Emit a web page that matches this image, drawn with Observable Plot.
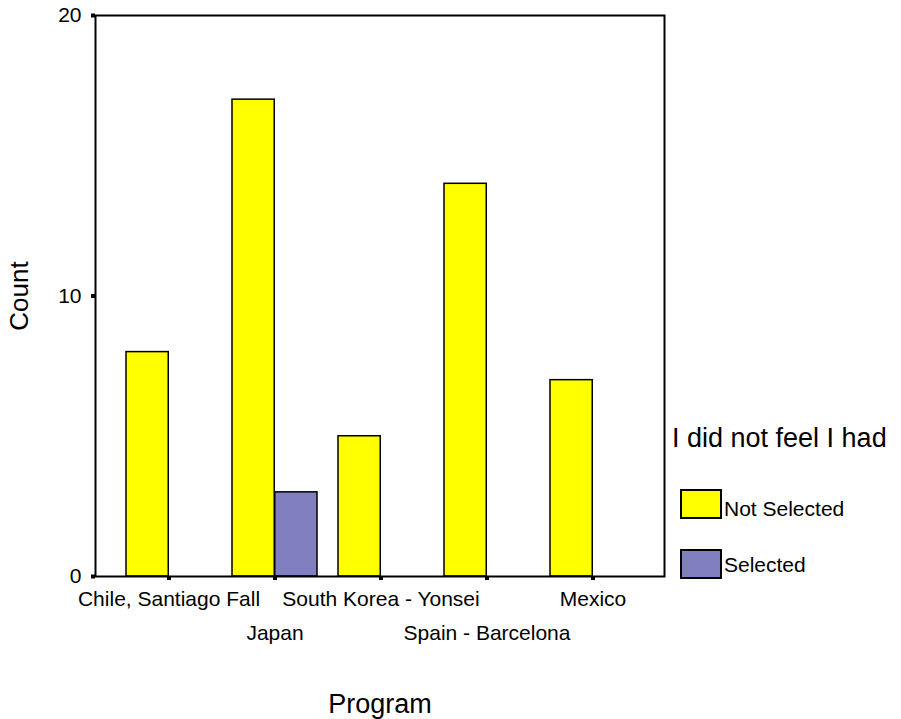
<!DOCTYPE html>
<html><head><meta charset="utf-8">
<script src="https://cdn.jsdelivr.net/npm/d3@7"></script>
<script src="https://cdn.jsdelivr.net/npm/@observablehq/plot@0.6"></script>
<style>
body{margin:0;background:#fff;font-family:"Liberation Sans",Arial,sans-serif;}
#wrap{position:relative;width:901px;height:719px;overflow:hidden;}
.lg{position:absolute;color:#000;white-space:nowrap;}
.sw{position:absolute;box-sizing:border-box;border:2px solid #000;}
</style></head><body><div id="wrap"></div>
<script>
const programs = ["Chile, Santiago Fall", "Japan", "South Korea - Yonsei", "Spain - Barcelona", "Mexico"];
const notSelected = [8, 17, 5, 14, 7];
const selected = [0, 3, 0, 0, 0];
const seriesNames = ["Not Selected", "Selected"];
const seriesColors = ["#ffff00", "#8080c0"];
const yTicks = [0, 10, 20];
const legendTitle = "I did not feel I had";
const xTitle = "Program";
const yTitle = "Count";

const row1 = programs.filter((d, i) => i % 2 === 0);
const row2 = programs.filter((d, i) => i % 2 === 1);
const rows = [];
programs.forEach((p, i) => {
  rows.push({program: p, status: seriesNames[0], count: notSelected[i]});
  rows.push({program: p, status: seriesNames[1], count: selected[i]});
});
const bars = rows.filter(d => d.count > 0);
const half = 42.75;

const chart = Plot.plot({
  width: 901, height: 719,
  marginLeft: 95, marginRight: 237, marginTop: 15, marginBottom: 143,
  style: {fontFamily: "'Liberation Sans', Arial, sans-serif", color: "black", background: "white"},
  x: {type: "band", domain: programs, range: [124, 637], paddingInner: 0.2, paddingOuter: 0, align: 0.5, axis: null},
  y: {domain: [0, 20], axis: null},
  color: {domain: seriesNames, range: seriesColors},
  marks: [
    Plot.barY(bars.filter(d => d.status === seriesNames[0]), {x: "program", y: "count", fill: "status", stroke: "black", strokeWidth: 1.5, insetRight: half}),
    Plot.barY(bars.filter(d => d.status === seriesNames[1]), {x: "program", y: "count", fill: "status", stroke: "black", strokeWidth: 1.5, insetLeft: half}),
    Plot.frame({stroke: "black", strokeWidth: 2}),
    Plot.axisY({ticks: yTicks, tickSize: 4, strokeWidth: 4, tickPadding: 10, fontSize: 21, label: null}),
    Plot.axisY({ticks: [], label: yTitle, labelAnchor: "center", labelOffset: 86, fontSize: 26, labelArrow: "none"}),
    Plot.axisX({ticks: programs, tickSize: 4, strokeWidth: 4, tickFormat: () => "", label: null}),
    Plot.axisX({ticks: row1, tickSize: 0, tickPadding: 15, fontSize: 21, label: null}),
    Plot.axisX({ticks: row2, tickSize: 0, tickPadding: 49, fontSize: 21, label: null}),
    Plot.axisX({ticks: [], label: xTitle, labelAnchor: "center", labelOffset: 136, fontSize: 27, labelArrow: "none"})
  ]
});
const wrap = document.getElementById("wrap");
wrap.appendChild(chart);

function addText(txt, left, top, size) {
  const d = document.createElement("div");
  d.className = "lg";
  d.style.left = left + "px"; d.style.top = top + "px";
  d.style.fontSize = size + "px"; d.style.lineHeight = size + "px";
  d.textContent = txt;
  wrap.appendChild(d);
}
addText(legendTitle, 672, 425, 27);
const swTops = [489, 549];
const labelTops = [498, 554];
seriesNames.forEach((name, i) => {
  const s = document.createElement("div");
  s.className = "sw";
  s.style.left = "680px"; s.style.top = swTops[i] + "px";
  s.style.width = "42px"; s.style.height = "30px";
  s.style.background = seriesColors[i];
  wrap.appendChild(s);
  addText(name, 724, labelTops[i], 21);
});
</script></body></html>
